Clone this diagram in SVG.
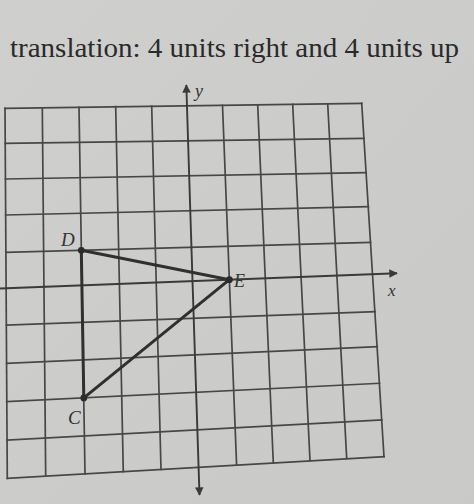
<svg xmlns="http://www.w3.org/2000/svg" width="474" height="504" viewBox="0 0 474 504">
<style>
.grid line{stroke:#474747;stroke-width:1.7;stroke-linecap:square}
.axis{stroke:#3a3a3a;stroke-width:1.9;fill:none}
.edge{stroke:#303030;stroke-width:3;stroke-linecap:round}
.dot{fill:#2b2b2b}
.lbl{font-family:"Liberation Serif",serif;font-style:italic;fill:#333}
.title{font-family:"Liberation Serif",serif;fill:#2a2a2a}
</style>
<defs>
<marker id="arr" viewBox="0 0 10 10" refX="9" refY="5" markerWidth="5" markerHeight="4.5" markerUnits="strokeWidth" orient="auto">
<path d="M0,0 L10,5 L0,10 Z" fill="#3a3a3a"/>
</marker>
<linearGradient id="bg" x1="0" y1="0" x2="1" y2="1">
<stop offset="0" stop-color="#cfcfcd"/>
<stop offset="1" stop-color="#c9c9c7"/>
</linearGradient>
</defs>
<rect width="474" height="504" fill="url(#bg)"/>
<text class="title" x="10" y="57" font-size="27" textLength="449" lengthAdjust="spacingAndGlyphs">translation: 4 units right and 4 units up</text>
<g id="grid" class="grid">
<line x1="5" y1="108.3" x2="361.7" y2="103.3"/>
<line x1="5.2" y1="143.3" x2="363.9" y2="138.3"/>
<line x1="5.5" y1="179" x2="366.2" y2="172.7"/>
<line x1="5.7" y1="215" x2="368.4" y2="206.7"/>
<line x1="5.9" y1="252.3" x2="370.6" y2="242.3"/>
<line x1="6.4" y1="325" x2="375.1" y2="311.7"/>
<line x1="6.6" y1="363.3" x2="377.3" y2="346.7"/>
<line x1="6.8" y1="401.7" x2="379.6" y2="383.3"/>
<line x1="7.1" y1="440" x2="381.8" y2="420"/>
<line x1="7.3" y1="478.3" x2="384" y2="456.7"/>
<line x1="5" y1="108.3" x2="7.3" y2="478.3"/>
<line x1="42.3" y1="107.8" x2="45.7" y2="476.1"/>
<line x1="79" y1="107.3" x2="85" y2="473.8"/>
<line x1="115.7" y1="106.7" x2="123.3" y2="471.6"/>
<line x1="151.7" y1="106.2" x2="161" y2="469.5"/>
<line x1="222.5" y1="105.3" x2="236.6" y2="464.8"/>
<line x1="257.7" y1="104.8" x2="273.3" y2="462.7"/>
<line x1="292.7" y1="104.3" x2="310" y2="460.5"/>
<line x1="327.7" y1="103.8" x2="346.7" y2="458.4"/>
<line x1="361.7" y1="103.3" x2="384" y2="456.7"/>
</g>
<g id="axes">
<line class="axis" x1="0" y1="288.5" x2="397" y2="273.2" marker-end="url(#arr)"/>
<line class="axis" x1="192.8" y1="290" x2="186.3" y2="85" marker-end="url(#arr)"/>
<line class="axis" x1="192.8" y1="290" x2="199.5" y2="495" marker-end="url(#arr)"/>
<text class="lbl" x="195" y="97" font-size="18">y</text>
<text class="lbl" x="388" y="296" font-size="17">x</text>
</g>
<g id="connectors">
<line class="edge" x1="81.3" y1="250.3" x2="229.4" y2="279.7"/>
<line class="edge" x1="229.4" y1="279.7" x2="83.8" y2="397.9"/>
<line class="edge" x1="83.8" y1="397.9" x2="81.3" y2="250.3"/>
</g>
<g id="node-D">
<circle class="dot" cx="81.3" cy="250.3" r="3.4"/>
<text class="lbl" x="61" y="246" font-size="19">D</text>
</g>
<g id="node-E">
<circle class="dot" cx="229.4" cy="279.7" r="3.4"/>
<text class="lbl" x="234" y="287" font-size="18">E</text>
</g>
<g id="node-C">
<circle class="dot" cx="83.8" cy="397.9" r="3.4"/>
<text class="lbl" x="68" y="424" font-size="19">C</text>
</g>
</svg>
